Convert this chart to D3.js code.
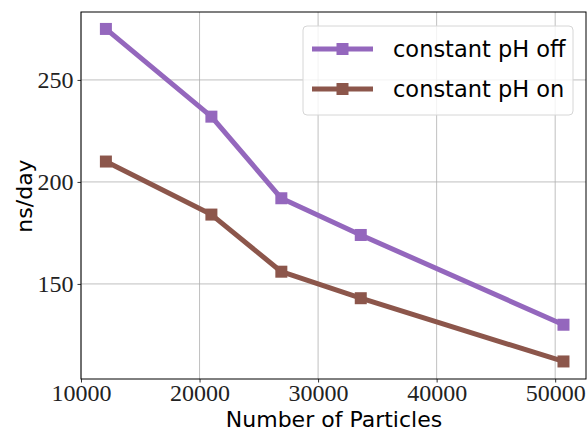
<!DOCTYPE html>
<html>
<head>
<meta charset="utf-8">
<script src="https://cdn.jsdelivr.net/npm/d3@7"></script>
<style>
  body { margin: 0; background: #fff; }
  svg { display: block; }
  .tick text { font-family: "Liberation Serif", "DejaVu Serif", serif; font-size: 24px; fill: #222; }
  .lbl { font-family: "DejaVu Sans", sans-serif; font-size: 22px; fill: #000; }
  .leg { font-family: "DejaVu Sans", sans-serif; font-size: 22.5px; fill: #000; }
</style>
</head>
<body>
<svg id="chart" width="588" height="432"></svg>
<script>
// particle counts and throughput (ns/day)
const particles = [12100, 21000, 26900, 33600, 50700];
const phOff = [275, 232, 192, 174, 130];
const phOn = [210, 184, 156, 143, 112];
const xTicks = [10000, 20000, 30000, 40000, 50000];
const yTicks = [150, 200, 250];

const series = [
  { name: 'constant pH off', values: phOff, color: '#9467bd' },
  { name: 'constant pH on', values: phOn, color: '#8c564b' }
];

const margin = { top: 12, right: 2, bottom: 53, left: 81 };
const width = 588, height = 432;
const svg = d3.select('#chart');

const x = d3.scaleLinear()
  .domain([10000, 52600])
  .range([margin.left, width - margin.right]);
const y = d3.scaleLinear()
  .domain([103.4, 283.3])
  .range([height - margin.bottom, margin.top]);

// grid
svg.append('g')
  .selectAll('line')
  .data(xTicks)
  .join('line')
  .attr('x1', d => x(d)).attr('x2', d => x(d))
  .attr('y1', margin.top).attr('y2', height - margin.bottom)
  .attr('stroke', '#b0b0b0').attr('stroke-width', 0.8);
svg.append('g')
  .selectAll('line')
  .data(yTicks)
  .join('line')
  .attr('x1', margin.left).attr('x2', width - margin.right)
  .attr('y1', d => y(d)).attr('y2', d => y(d))
  .attr('stroke', '#b0b0b0').attr('stroke-width', 0.8);

// axes
const xAxis = svg.append('g')
  .attr('transform', `translate(0,${height - margin.bottom})`)
  .call(d3.axisBottom(x).tickValues(xTicks).tickFormat(d3.format('d')).tickSize(3.5).tickPadding(1));
const yAxis = svg.append('g')
  .attr('transform', `translate(${margin.left},0)`)
  .call(d3.axisLeft(y).tickValues(yTicks).tickFormat(d3.format('d')).tickSize(3.5).tickPadding(4));
[xAxis, yAxis].forEach(a => {
  a.select('.domain').remove();
  a.selectAll('.tick line').attr('stroke', '#000').attr('stroke-width', 0.8);
});

// lines + markers
const line = d3.line().x((d, i) => x(particles[i])).y(d => y(d));
series.forEach(s => {
  svg.append('path')
    .datum(s.values)
    .attr('d', line)
    .attr('fill', 'none')
    .attr('stroke', s.color)
    .attr('stroke-width', 5)
    .attr('stroke-linejoin', 'round');
  svg.append('g')
    .selectAll('rect')
    .data(s.values)
    .join('rect')
    .attr('x', (d, i) => x(particles[i]) - 6)
    .attr('y', d => y(d) - 6)
    .attr('width', 12).attr('height', 12)
    .attr('fill', s.color);
});

// frame
svg.append('rect')
  .attr('x', margin.left).attr('y', margin.top)
  .attr('width', width - margin.left - margin.right)
  .attr('height', height - margin.top - margin.bottom)
  .attr('fill', 'none').attr('stroke', '#000').attr('stroke-width', 1);

// legend
const lg = svg.append('g').attr('transform', 'translate(303,26)');
lg.append('rect')
  .attr('width', 270).attr('height', 89).attr('rx', 4)
  .attr('fill', 'rgba(255,255,255,0.8)')
  .attr('stroke', '#d6d6d6').attr('stroke-width', 1);
series.forEach((s, i) => {
  const yy = 23 + i * 40;
  lg.append('line')
    .attr('x1', 9).attr('x2', 70).attr('y1', yy).attr('y2', yy)
    .attr('stroke', s.color).attr('stroke-width', 5);
  lg.append('rect')
    .attr('x', 33.5).attr('y', yy - 6).attr('width', 12).attr('height', 12)
    .attr('fill', s.color);
  lg.append('text')
    .attr('class', 'leg')
    .attr('x', 90).attr('y', yy + 8)
    .text(s.name);
});

// axis labels
svg.append('text')
  .attr('class', 'lbl')
  .attr('x', 334)
  .attr('y', 427)
  .attr('text-anchor', 'middle')
  .text('Number of Particles');
svg.append('text')
  .attr('class', 'lbl')
  .attr('transform', 'translate(32,196) rotate(-90)')
  .attr('text-anchor', 'middle')
  .text('ns/day');
</script>
</body>
</html>
